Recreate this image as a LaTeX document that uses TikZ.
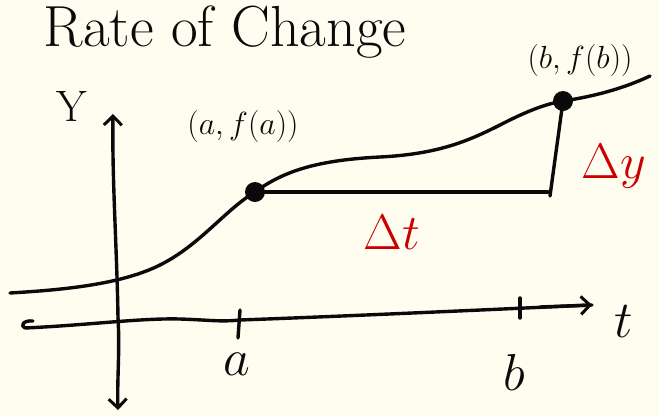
\RequirePackage{fix-cm}
\documentclass[tikz,border=0pt]{standalone}
\usetikzlibrary{arrows.meta}
\definecolor{paper}{HTML}{FFFDF0}
\definecolor{pen}{HTML}{0A0A0A}
\definecolor{redpen}{HTML}{CC0000}
\begin{document}
\begin{tikzpicture}[x=1pt,y=-1pt,
  ink/.style={draw=pen,line width=3.4pt,line cap=round,line join=round},
  axisarrow/.style={ink,-{Straight Barb[length=9pt,width=18pt,line width=3pt]}},
  dotpt/.style={circle,fill=pen,inner sep=0pt,minimum size=20pt},
  hand/.style={text=pen,font=\fontsize{32}{34}\selectfont},
  redhand/.style={text=redpen,font=\fontsize{50}{52}\selectfont}]
\fill[paper] (0,0) rectangle (659,416);
\useasboundingbox (0,0) rectangle (659,416);
% title
\node[hand,font=\fontsize{58}{60}\selectfont,inner sep=0pt] (title) at (225,32) {Rate of Change};
% axes
\coordinate (ytop) at (113,114);
\coordinate (ybot) at (118,410);
\coordinate (xleft) at (25,328);
\coordinate (xright) at (592,305);
\draw[axisarrow] (118,318) .. controls (117,250) and (112,180) .. (ytop);
\draw[axisarrow] (118,318) .. controls (120,350) and (117,380) .. (ybot);
\draw[ink] (xleft) .. controls (90,325) and (140,318) .. (180,319) .. controls (210,320) and (220,322) .. (240,320) .. controls (350,316) and (480,310) .. (xright);
\draw[axisarrow] (540,307) -- (xright);
\draw[ink] (xleft) .. controls (20,326) and (23,320) .. (33,321);
\node[hand,font=\fontsize{44}{46}\selectfont] (ylab) at (72,106) {Y};
\node[hand,font=\fontsize{52}{54}\selectfont] (tlab) at (624,322) {$t$};
% ticks
\coordinate (ta1) at (240,310);
\coordinate (ta2) at (238,338);
\coordinate (tb1) at (520,298);
\coordinate (tb2) at (520,318);
\draw[ink] (ta1) -- (ta2);
\draw[ink] (tb1) -- (tb2);
\node[hand,font=\fontsize{52}{54}\selectfont] (alab) at (237,364) {$a$};
\node[hand,font=\fontsize{52}{54}\selectfont] (blab) at (514,372) {$b$};
% curve
\node[dotpt] (A) at (255,192) {};
\node[dotpt] (B) at (563,101) {};
\draw[ink] (10,293) .. controls (60,290) and (120,285) .. (160,265) .. controls (200,245) and (225,210) .. (A.center)
  .. controls (285,170) and (320,160) .. (380,157) .. controls (440,154) and (470,140) .. (500,125)
  .. controls (525,112) and (545,104) .. (B.center) .. controls (590,97) and (620,90) .. (650,76);
% increments
\coordinate (C) at (548,192);
\draw[ink] (A.center) -- (C);
\draw[ink] (B.center) -- (550,196);
% labels
\node[redhand] (dt) at (392,232) {$\Delta t$};
\node[redhand] (dy) at (614,166) {$\Delta y$};
\node[hand] (alabel) at (243,126) {$(a,f(a))$};
\node[hand] (blabel) at (580,60) {$(b,f(b))$};
\end{tikzpicture}
\end{document}
